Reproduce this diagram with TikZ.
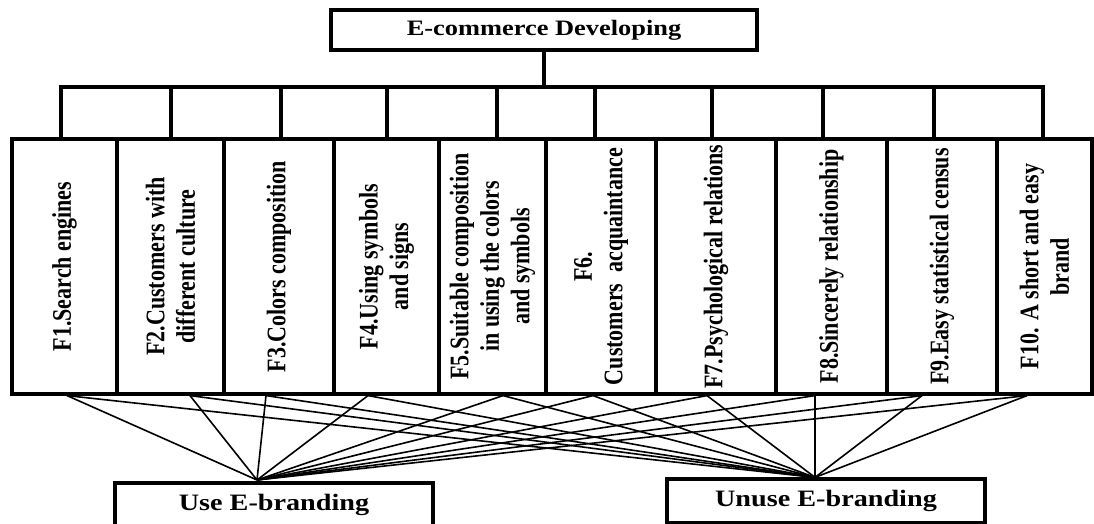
\documentclass[tikz,border=0pt]{standalone}
\usepackage{fontspec}
\setmainfont{Liberation Serif}
\newfontfamily\widefont[FakeStretch=1.2]{Liberation Serif}

\begin{document}
\begin{tikzpicture}[x=1pt, y=1pt]
    % Define styles
    \tikzset{
        box/.style={
            draw,
            line width=3.2pt,
            inner sep=0pt
        },
        title/.style={
            box,
            font=\widefont\bfseries\fontsize{22}{26}\selectfont
        },
        brandbox/.style={
            box,
            minimum width=318pt,
            minimum height=44pt,
            font=\widefont\bfseries\fontsize{23.5}{27}\selectfont
        },
        factor/.style={
            box,
            minimum height=255pt
        },
        ftext/.style={
            rotate=90,
            yscale=1.22,
            align=center,
            font=\bfseries\fontsize{22}{25}\selectfont
        },
        tree/.style={
            line width=3.2pt
        },
        fan/.style={
            line width=1.6pt
        }
    }
    \useasboundingbox (0,0) rectangle (1094,524);

    % Top: E-commerce
    \node[title, minimum width=426pt, minimum height=40pt] (top) at (544,494) {E-commerce Developing};

    % Factor boxes F1 ... F10
    \foreach \i/\x/\w/\t in {
        1/64.5/105/{F1.Search engines},
        2/170.5/107/{F2.Customers with\\different culture},
        3/279/110/{F3.Colors composition},
        4/386.5/105/{F4.Using symbols\\and signs},
        5/492.5/107/{F5.Suitable composition\\in using the colors\\and symbols},
        6/601/110/{F6.\\Customers\ \ acquaintance},
        7/716/120/{F7.Psychological relations},
        8/831.5/111/{F8.Sincerely relationship},
        9/942/110/{F9.Easy statistical census},
        10/1044.5/95/{F10. A short and easy\\brand}}
    {
        \node[factor, minimum width=\w pt] (f\i) at (\x,257.5) {};
        \node[ftext] (ft\i) at (f\i) {\t};
    }

    % Tree from the top box to the factors
    \foreach \i/\x in {1/61, 2/171, 3/281, 4/387, 5/497, 6/595, 7/712, 8/823, 9/934, 10/1043}
        \coordinate (t\i) at (\x,437);
    \draw[tree] (top.south) -- (top.south |- t1);
    \draw[tree, line join=miter] (t1 |- f1.north) -- (t1) -- (t10) -- (t10 |- f10.north);
    \foreach \i in {2,...,9}
        \draw[tree] (t\i) -- (t\i |- f1.north);

    % Bottom boxes
    \node[brandbox] (use) at (274,19) {Use E-branding};
    \node[brandbox] (unuse) at (826,23) {Unuse E-branding};
    \coordinate (usep) at (257,44);
    \coordinate (unusep) at ([xshift=-11pt]unuse.north);

    % Fan of connectors
    \foreach \i/\x in {1/67, 2/190, 3/266, 4/368, 5/503, 6/593, 7/707, 8/815, 9/922, 10/1027} {
        \coordinate (a\i) at ([xshift=\x pt]f1.south -| 0,0);
        \draw[fan] (a\i) -- (usep);
        \draw[fan] (a\i) -- (unusep);
    }

\end{tikzpicture}
\end{document}
